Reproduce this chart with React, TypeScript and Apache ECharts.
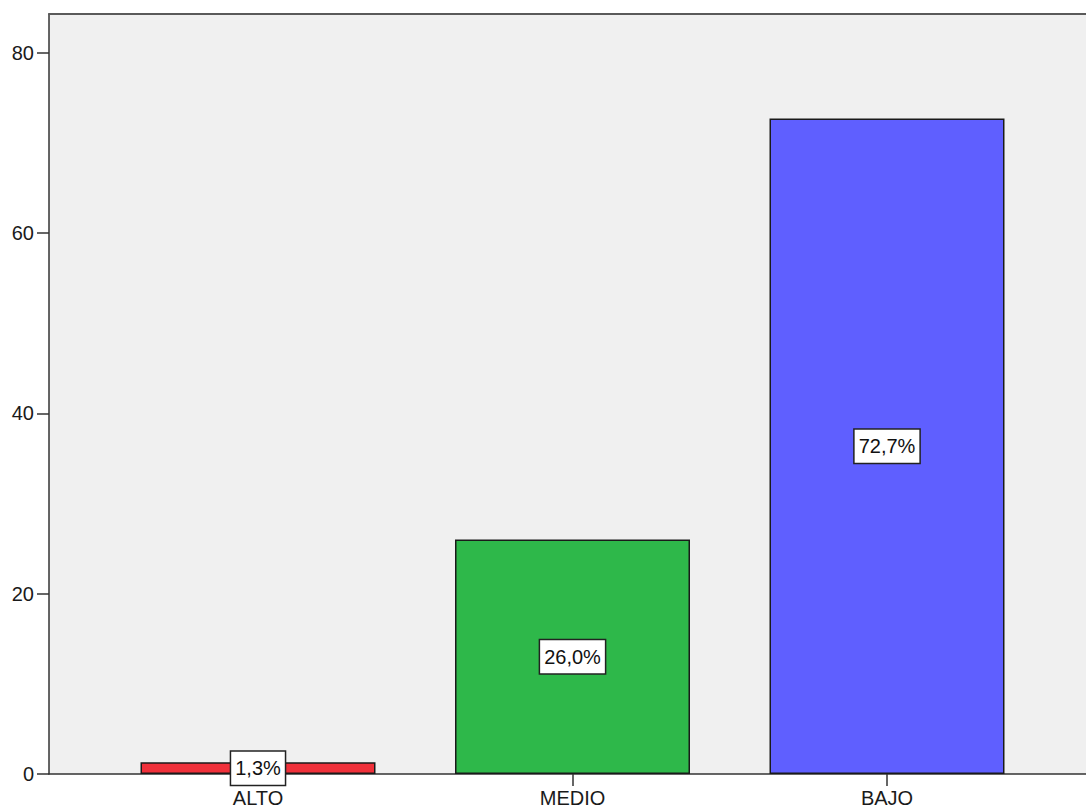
import React, { useEffect, useRef } from "react";
import * as echarts from "echarts";

const categories = ["ALTO", "MEDIO", "BAJO"];
const values = [1.3, 26.0, 72.7];
const barColors = ["#F0303A", "#2EB84A", "#5F5FFF"];
const yTicks = [0, 20, 40, 60, 80];
const yMax = 84.3;

const FONT = "'Liberation Sans', Arial, sans-serif";

export default function App() {
  const ref = useRef<HTMLDivElement>(null);
  useEffect(() => {
    if (!ref.current) return;
    const chart = echarts.init(ref.current, undefined, { renderer: "svg" });
    chart.setOption({
      animation: false,
      backgroundColor: "#ffffff",
      grid: [
        {
          left: 49,
          top: 14,
          right: -40,
          bottom: 36,
          show: true,
          backgroundColor: "#f0f0f0",
          borderWidth: 0,
        },
        {
          left: 100.75,
          top: 14,
          right: 41.75,
          bottom: 36,
        },
      ],
      xAxis: [
        {
          gridIndex: 0,
          type: "category",
          data: [""],
          axisLine: { show: true, lineStyle: { color: "#333", width: 1.5 } },
          axisTick: { show: false },
          axisLabel: { show: false },
          splitLine: { show: false },
        },
        {
          gridIndex: 1,
          type: "category",
          data: categories,
          axisLine: { show: false },
          axisTick: {
            show: true,
            alignWithLabel: true,
            length: 12,
            lineStyle: { color: "#333", width: 1.5 },
          },
          axisLabel: {
            color: "#1a1a1a",
            fontSize: 20,
            fontFamily: FONT,
            margin: 14,
          },
          splitLine: { show: false },
        },
        {
          gridIndex: 0,
          type: "category",
          position: "top",
          data: [""],
          axisLine: { show: true, lineStyle: { color: "#5a5a5a", width: 2 } },
          axisTick: { show: false },
          axisLabel: { show: false },
          splitLine: { show: false },
        },
      ],
      yAxis: [
        {
          gridIndex: 0,
          type: "value",
          min: 0,
          max: yMax,
          interval: 20,
          axisLine: { show: true, lineStyle: { color: "#333", width: 1.5 } },
          axisTick: {
            show: true,
            length: 12,
            customValues: yTicks,
            lineStyle: { color: "#333", width: 1.5 },
          },
          axisLabel: {
            color: "#1a1a1a",
            fontSize: 20,
            fontFamily: FONT,
            margin: 15,
            customValues: yTicks,
          },
          splitLine: { show: false },
        },
        {
          gridIndex: 1,
          type: "value",
          min: 0,
          max: yMax,
          interval: 20,
          show: false,
          splitLine: { show: false },
        },
      ],
      series: [
        {
          type: "bar",
          xAxisIndex: 1,
          yAxisIndex: 1,
          barWidth: 235,
          data: values.map((v, i) => ({
            value: v,
            itemStyle: { color: barColors[i] },
          })),
          itemStyle: { borderColor: "#1a1a1a", borderWidth: 1.5 },
          label: {
            show: true,
            position: "inside",
            formatter: (p: any) => p.value.toFixed(1).replace(".", ",") + "%",
            color: "#111",
            fontSize: 20,
            fontFamily: FONT,
            backgroundColor: "#ffffff",
            borderColor: "#222",
            borderWidth: 1.5,
            padding: [6, 4],
            lineHeight: 21,
          },
        },
      ],
    });
    return () => chart.dispose();
  }, []);
  return (
    <div
      ref={ref}
      style={{ position: "fixed", left: 0, top: 0, width: 1086, height: 810 }}
    />
  );
}
